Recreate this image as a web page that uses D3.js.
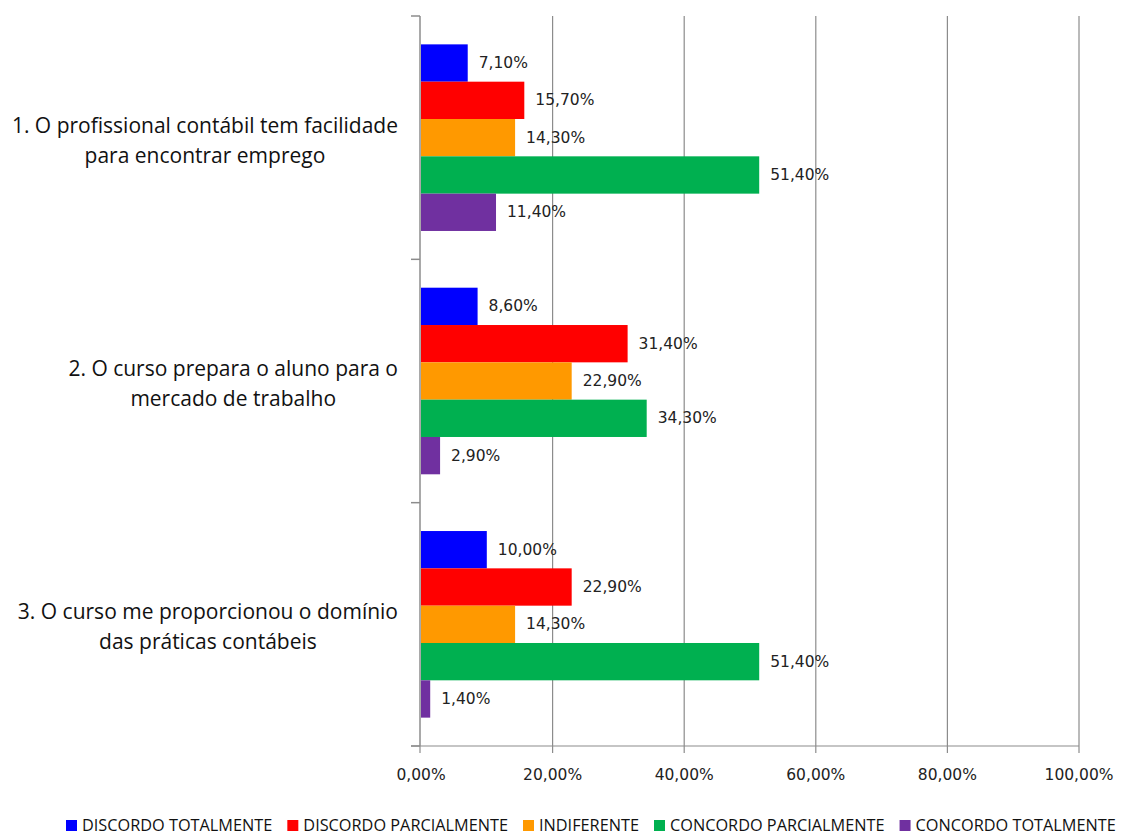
<!DOCTYPE html>
<html>
<head>
<meta charset="utf-8">
<script src="https://cdn.jsdelivr.net/npm/d3@7"></script>
<style>
  body { margin: 0; background: #fff; }
  svg { display: block; }
</style>
</head>
<body>
<div id="chart"></div>
<script>
// data
var categories = [
  ["1. O profissional contábil tem facilidade", "para encontrar emprego"],
  ["2. O curso prepara o aluno para o", "mercado de trabalho"],
  ["3. O curso me proporcionou o domínio", "das práticas contábeis"]
];
var series = ["DISCORDO TOTALMENTE", "DISCORDO PARCIALMENTE", "INDIFERENTE", "CONCORDO PARCIALMENTE", "CONCORDO TOTALMENTE"];
var colors = ["#0000FF", "#FF0000", "#FF9900", "#00B050", "#7030A0"];
var values = [
  [7.1, 15.7, 14.3, 51.4, 11.4],
  [8.6, 31.4, 22.9, 34.3, 2.9],
  [10.0, 22.9, 14.3, 51.4, 1.4]
];
var xTicks = [0, 20, 40, 60, 80, 100];

var W = 1147, H = 837;
var margin = {top: 16, right: 68, bottom: 91, left: 421},
    width = W - margin.left - margin.right,
    height = H - margin.top - margin.bottom;

var svg = d3.select("#chart").append("svg")
    .attr("width", W).attr("height", H);
var g = svg.append("g")
    .attr("transform", "translate(" + margin.left + "," + margin.top + ")");

var fmt = function(v) { return v.toFixed(2).replace(".", ",") + "%"; };

var x = d3.scaleLinear().domain([0, 100]).range([0, width]);
var y0 = d3.scaleBand().domain(d3.range(categories.length)).range([0, height]).padding(0);
var y1 = d3.scaleBand().domain(d3.range(series.length)).range([0, y0.bandwidth()])
    .paddingInner(0).paddingOuter(0.76);

// gridlines
g.selectAll(".grid").data(xTicks.slice(1)).enter().append("line")
    .attr("x1", d => x(d)).attr("x2", d => x(d))
    .attr("y1", 0).attr("y2", height)
    .attr("stroke", "#8c8c8c").attr("stroke-width", 1.2);

// x axis
g.append("line").attr("x1", -10).attr("x2", width).attr("y1", height).attr("y2", height)
    .attr("stroke", "#8c8c8c").attr("stroke-width", 1.2);
g.selectAll(".xt").data(xTicks).enter().append("line")
    .attr("x1", d => x(d) - 1 * (d === 0)).attr("x2", d => x(d) - 1 * (d === 0))
    .attr("y1", height).attr("y2", height + 7)
    .attr("stroke", "#8c8c8c").attr("stroke-width", 1.2);
g.selectAll(".xl").data(xTicks).enter().append("text")
    .attr("x", d => x(d)).attr("y", height + 34)
    .attr("text-anchor", "middle")
    .style("font-family", "DejaVu Sans").style("font-size", "15.5px").attr("fill", "#222")
    .text(d => fmt(d));

// y axis
g.append("line").attr("x1", -1).attr("x2", -1).attr("y1", 0).attr("y2", height)
    .attr("stroke", "#8c8c8c").attr("stroke-width", 1.5);
g.selectAll(".yt").data(d3.range(categories.length + 1)).enter().append("line")
    .attr("x1", -10).attr("x2", -1)
    .attr("y1", d => d * y0.step()).attr("y2", d => d * y0.step())
    .attr("stroke", "#8c8c8c").attr("stroke-width", 1.5);

// bars
var groups = g.selectAll(".grp").data(values).enter().append("g")
    .attr("transform", (d, i) => "translate(0," + y0(i) + ")");
groups.selectAll("rect").data(d => d).enter().append("rect")
    .attr("x", 0).attr("y", (d, j) => y1(j))
    .attr("width", d => x(d)).attr("height", y1.bandwidth())
    .attr("fill", (d, j) => colors[j]);
groups.selectAll(".lbl").data(d => d).enter().append("text")
    .attr("x", d => x(d) + 11).attr("y", (d, j) => y1(j) + y1.bandwidth() / 2 + 5)
    .style("font-family", "DejaVu Sans").style("font-size", "15.5px").attr("fill", "#222")
    .text(d => fmt(d));

// category labels: block right aligned, lines centred
categories.forEach(function(lines, i) {
  var t = svg.append("g");
  var cy = margin.top + y0(i) + y0.bandwidth() / 2;
  var texts = lines.map(function(s, k) {
    return t.append("text")
      .attr("y", cy - 12 + k * 30 + 7)
      .attr("text-anchor", "middle")
      .style("font-family", "Open Sans").style("font-size", "21px").attr("fill", "#111")
      .text(s);
  });
  var maxW = d3.max(texts, n => n.node().getComputedTextLength());
  texts.forEach(n => n.attr("x", 398 - maxW / 2));
});

// legend
var lx = 66, ly = 826;
series.forEach(function(s, i) {
  svg.append("rect").attr("x", lx).attr("y", ly - 6).attr("width", 11).attr("height", 11)
      .attr("fill", colors[i]);
  var t = svg.append("text").attr("x", lx + 16).attr("y", ly + 5)
      .style("font-family", "Open Sans").style("font-size", "16.3px").attr("fill", "#111")
      .text(s);
  lx += 16 + t.node().getComputedTextLength() + 15;
});
</script>
</body>
</html>
